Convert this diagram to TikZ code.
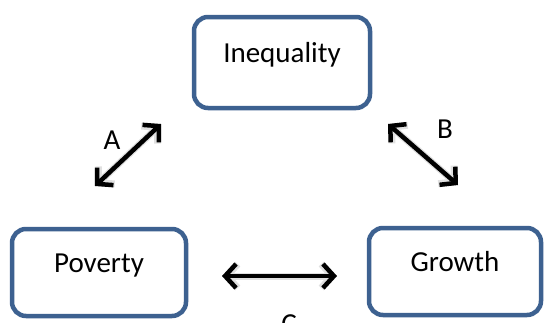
\documentclass[tikz,border=0pt]{standalone}
\usepackage{fontspec}
\setmainfont{Carlito}
\usepackage{tikz}
\usetikzlibrary{arrows.meta, positioning}
\definecolor{boxblue}{HTML}{3D6190}

\begin{document}
\begin{tikzpicture}[x=1pt, y=-1pt,
    box/.style={draw=boxblue, line width=4.5pt, rounded corners=14pt, fill=white,
        inner sep=0pt, text height=10pt, text depth=10pt, font=\fontsize{29}{31}\selectfont},
    link/.style={line width=4.5pt, {Straight Barb[length=11pt, width=24pt]}-{Straight Barb[length=11pt, width=24pt]}},
    shade/.style={link, black!12, line width=7pt, shift={(2,2)}},
    tag/.style={anchor=base, inner sep=0pt, font=\fontsize{29}{31}\selectfont}]
    \useasboundingbox (0,0) rectangle (544,322);
    % Boxes
    \node[box, minimum width=176pt, minimum height=91pt] (ineq) at (282,62.5) {Inequality};
    \node[box, minimum width=174pt, minimum height=87pt] (pov) at (99,272.5) {Poverty};
    \node[box, minimum width=172pt, minimum height=87pt] (grow) at (455,271.5) {Growth};
    % Arrow ends
    \coordinate (a1) at (95,186);
    \coordinate (a2) at (161,124);
    \coordinate (b1) at (388,124);
    \coordinate (b2) at (458,185);
    \coordinate (c1) at (222,276);
    \coordinate (c2) at (337,276);
    % Links (with soft shadow)
    \draw[shade] (a1) -- (a2);
    \draw[shade] (b1) -- (b2);
    \draw[shade] (c1) -- (c2);
    \draw[link] (a1) -- (a2);
    \draw[link] (b1) -- (b2);
    \draw[link] (c1) -- (c2);
    % Labels
    \node[tag] (la) at (112,149.5) {A};
    \node[tag] (lb) at (445,138) {B};
    \node[tag] (lc) at (289,333) {C};
\end{tikzpicture}
\end{document}
